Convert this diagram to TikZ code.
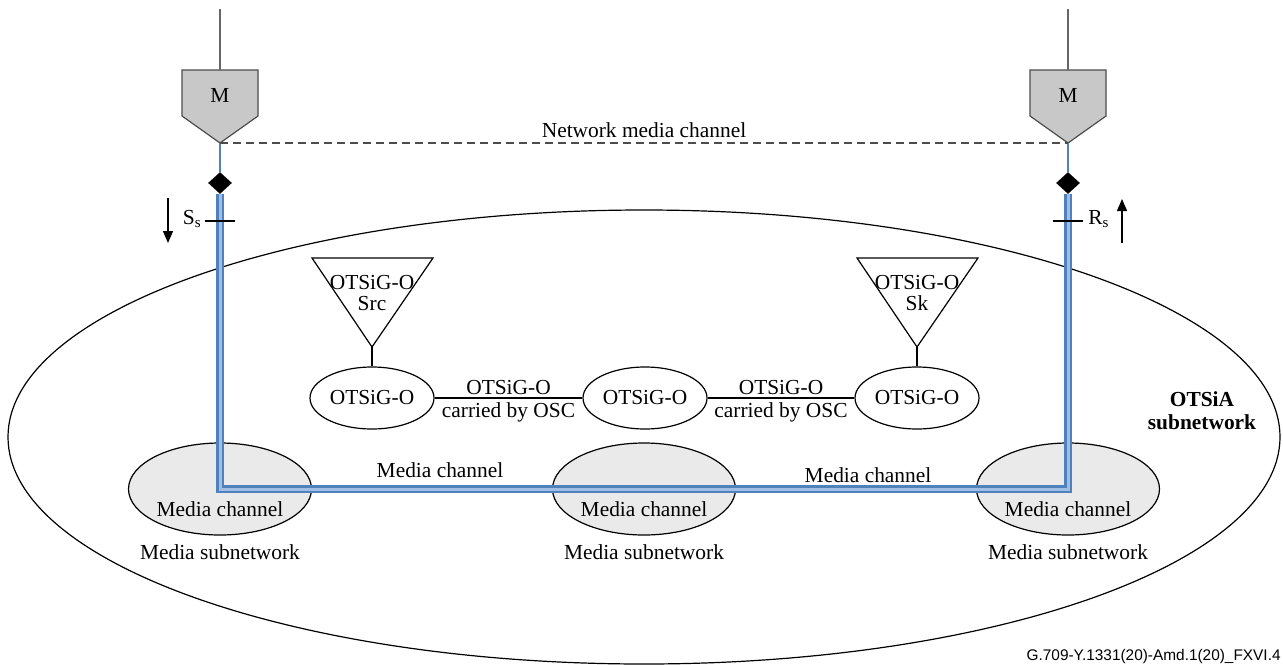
\documentclass[tikz,border=0pt]{standalone}
\usepackage{fontspec}
\setmainfont{Liberation Serif}
\newfontfamily\capfont{Liberation Sans}
\usetikzlibrary{shapes.geometric,arrows.meta}

\definecolor{bandblue}{RGB}{79,129,189}
\definecolor{bandlight}{RGB}{160,190,228}
\definecolor{mgray}{RGB}{200,200,200}
\definecolor{subgray}{RGB}{234,234,234}

\tikzset{
  otsig/.style={ellipse, draw, line width=0.6pt, inner sep=0pt, minimum width=62pt, minimum height=31pt},
  mediasub/.style={ellipse, draw, line width=0.6pt, fill=subgray, minimum width=91.5pt, minimum height=46pt},
  band/.style={draw=bandblue, double=bandlight, double distance=1.5pt, line width=1.3pt, line join=miter},
  pointmark/.style={diamond, fill=black, inner sep=0pt, minimum width=12pt, minimum height=11pt}
}

\begin{document}
\begin{tikzpicture}[x=0.5pt, y=-0.5pt, >={Triangle[length=6pt,width=5pt]}, font=\fontsize{10.7}{12.5}\selectfont]
  \useasboundingbox (0,0) rectangle (1283,664);

  % OTSiA subnetwork
  \draw[line width=0.6pt] (644,437) ellipse [x radius=636, y radius=227];
  \node[font=\bfseries\fontsize{10.7}{11.5}\selectfont, align=center] (otsia) at (1202,411) {OTSiA\\subnetwork};

  % media subnetworks
  \foreach \x/\n in {220/1, 644/2, 1068/3} {
    \node[mediasub] (ms\n) at (\x,489) {};
    \node (mc\n) at (\x,509) {Media channel};
    \node (msn\n) at (\x,552) {Media subnetwork};
  }

  % M blocks and end points
  \foreach \x/\n in {220/S, 1068/R} {
    \draw[fill=mgray, draw=black!70, line width=0.6pt] (\x-38,70) -- (\x+38,70) -- (\x+38,116) -- (\x,143) -- (\x-38,116) -- cycle;
    \node (m\n) at (\x,95) {M};
    \coordinate (top\n) at (\x,9);
    \coordinate (apex\n) at (\x,143);
    \coordinate (tick\n) at (\x,221);
    \draw[black!60, line width=0.6pt] (top\n) -- (\x,70);
    \node[pointmark] (d\n) at (\x,183) {};
    \draw[bandblue, line width=1.1pt] (apex\n) -- (d\n);
  }

  \draw[dashed, dash pattern=on 4pt off 2.5pt, black!70, line width=0.6pt] (apexS) -- node[above, inner sep=2.5pt, text=black] (nmc) {Network media channel} (apexR);

  % media channel band
  \draw[band] (dS) |- (ms2.center) -| (dR);
  \node (mcl1) at (440,470) {Media channel};
  \node (mcl2) at (868,475) {Media channel};

  % reference points
  \draw[line width=0.6pt] ([xshift=-7.5pt]tickS) -- ([xshift=7.5pt]tickS);
  \draw[line width=0.6pt] ([xshift=-7.5pt]tickR) -- ([xshift=7.5pt]tickR);
  \node[anchor=east, inner sep=1pt] (ss) at (204,219) {S\textsubscript{s}};
  \node[anchor=west, inner sep=1pt] (rs) at (1086,219) {R\textsubscript{s}};
  \coordinate (arS1) at (168,198);
  \coordinate (arS2) at (168,243);
  \coordinate (arR1) at (1122,243);
  \coordinate (arR2) at (1122,199);
  \draw[->, line width=0.7pt] (arS1) -- (arS2);
  \draw[->, line width=0.7pt] (arR1) -- (arR2);

  % OTSiG-O
  \foreach \x/\n in {372/1, 645/2, 917/3}
    \node[otsig] (og\n) at (\x,398) {OTSiG-O};
  \draw[line width=0.6pt] (og1) -- node[above, inner sep=1.5pt] (l1) {OTSiG-O} node[below, inner sep=2pt] (l2) {carried by OSC} (og2);
  \draw[line width=0.6pt] (og2) -- node[above, inner sep=1.5pt] (l3) {OTSiG-O} node[below, inner sep=2pt] (l4) {carried by OSC} (og3);

  \foreach \x/\t/\n in {372/Src/1, 917/Sk/3} {
    \draw[line width=0.6pt] (\x-60,258) -- (\x+61,258) -- (\x,347) -- cycle;
    \coordinate (tri\n) at (\x,347);
    \node[align=center, inner sep=0pt] (tt\n) at (\x,293) {OTSiG-O\\[-2pt]\t};
    \draw[line width=0.6pt] (tri\n) -- (og\n);
  }

  \node[anchor=east, inner sep=0pt, font=\capfont\fontsize{7.7}{9}\selectfont] (cap) at (1281,657) {G.709-Y.1331(20)-Amd.1(20)\_FXVI.4};
\end{tikzpicture}
\end{document}
